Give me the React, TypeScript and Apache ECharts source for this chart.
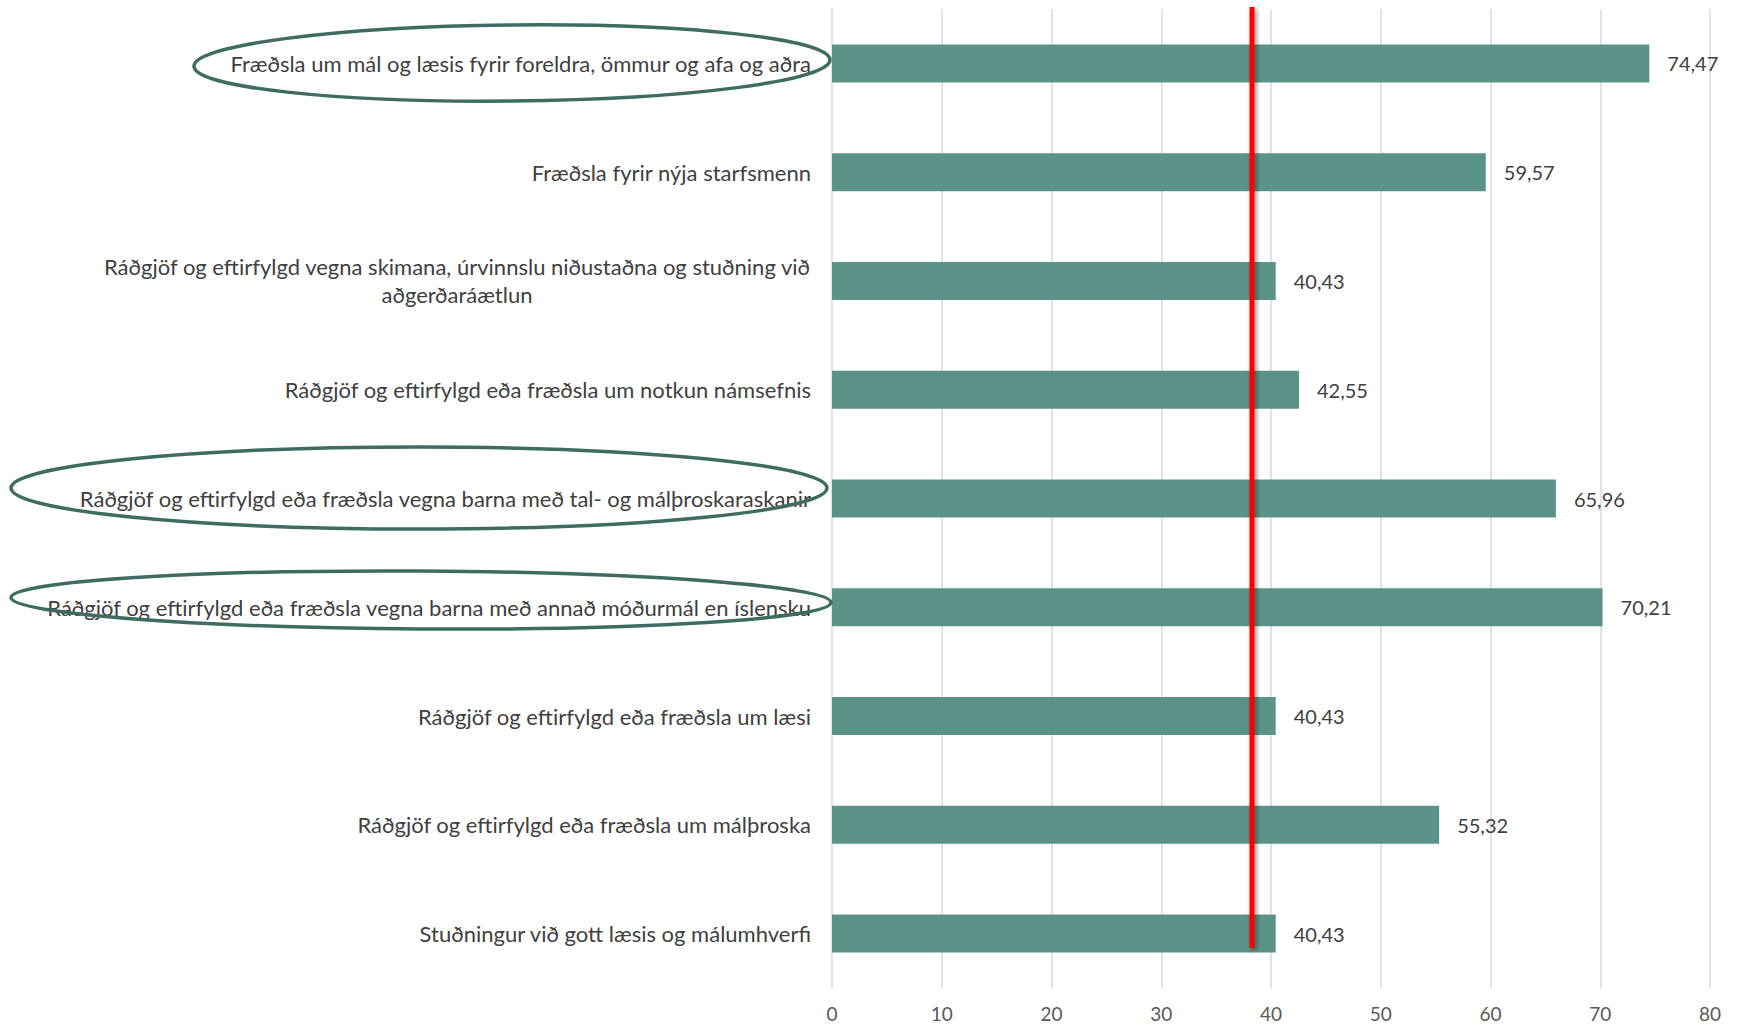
import React, { useEffect, useRef } from "react";
import * as echarts from "echarts";

const categories: string[] = [
  "Fræðsla um mál og læsis fyrir foreldra, ömmur og afa og aðra",
  "Fræðsla fyrir nýja starfsmenn",
  "Ráðgjöf og eftirfylgd vegna skimana, úrvinnslu niðustaðna og stuðning við\naðgerðaráætlun",
  "Ráðgjöf og eftirfylgd eða fræðsla um notkun námsefnis",
  "Ráðgjöf og eftirfylgd eða fræðsla vegna barna með tal- og málþroskaraskanir",
  "Ráðgjöf og eftirfylgd eða fræðsla vegna barna með annað móðurmál en íslensku",
  "Ráðgjöf og eftirfylgd eða fræðsla um læsi",
  "Ráðgjöf og eftirfylgd eða fræðsla um málþroska",
  "Stuðningur við gott læsis og málumhverfi",
];
const values: number[] = [74.47, 59.57, 40.43, 42.55, 65.96, 70.21, 40.43, 55.32, 40.43];
const averageValue = 38.27;
const xTicks: number[] = [0, 10, 20, 30, 40, 50, 60, 70, 80];

const FONT = "Lato, 'Open Sans', sans-serif";
const LABEL_SIZE = 22;

function measure(text: string): number {
  const c = document.createElement("canvas");
  const ctx = c.getContext("2d")!;
  ctx.font = `${LABEL_SIZE}px Lato`;
  return ctx.measureText(text).width;
}

const GRID = { left: 832, right: 29, top: 9, bottom: 40 };

export default function App() {
  const ref = useRef<HTMLDivElement>(null);
  useEffect(() => {
    document.body.style.margin = "0";
    const chart = echarts.init(ref.current!, null, { renderer: "svg" });
    chart.setOption({
      animation: false,
      backgroundColor: "#ffffff",
      grid: GRID,
      xAxis: {
        type: "value",
        min: xTicks[0],
        max: xTicks[xTicks.length - 1],
        interval: 10,
        axisLine: { show: false },
        axisTick: { show: false },
        splitLine: { lineStyle: { color: "#d9d9d9", width: 1.5 } },
        axisLabel: { color: "#595959", fontSize: 19, fontFamily: FONT, margin: 16 },
      },
      yAxis: {
        type: "category",
        inverse: true,
        data: categories,
        axisLine: { show: false },
        axisTick: { show: false },
        axisLabel: {
          color: "#404040",
          fontSize: LABEL_SIZE,
          fontFamily: FONT,
          margin: 21,
          lineHeight: 28,
          formatter: (v: string) => {
            const lines = v.split("\n");
            if (lines.length === 1) return v;
            const w = Math.ceil(Math.max(...lines.map(measure)));
            return lines.map((l) => `{c${w}|${l}}`).join("\n");
          },
          rich: Object.fromEntries(
            categories
              .filter((c) => c.includes("\n"))
              .map((c) => {
                const w = Math.ceil(Math.max(...c.split("\n").map(measure)));
                return [
                  `c${w}`,
                  {
                    width: w,
                    align: "center",
                    color: "#404040",
                    fontSize: LABEL_SIZE,
                    fontFamily: FONT,
                    lineHeight: 28,
                  },
                ];
              })
          ),
        },
      },
      series: [
        {
          type: "bar",
          data: values,
          barWidth: 38,
          itemStyle: { color: "#5a9488" },
          label: {
            show: true,
            position: "right",
            distance: 18,
            color: "#404040",
            fontSize: 20,
            fontFamily: FONT,
            formatter: (p: any) => p.value.toFixed(2).replace(".", ","),
          },
        },
      ],
    });
    let rx = chart.convertToPixel({ xAxisIndex: 0 }, averageValue) as any;
    if (typeof rx !== "number" || !isFinite(rx)) {
      const w = 1739 - GRID.left - GRID.right;
      rx = GRID.left + (averageValue / xTicks[xTicks.length - 1]) * w;
    }
    const ellipseStyle = { fill: "none", stroke: "#3f6b60", lineWidth: 3.5 };
    chart.setOption({
      graphic: [
        {
          type: "rect",
          shape: { x: rx - 2.5, y: 7, width: 5, height: 941 },
          style: {
            fill: "#ff0000",
            shadowBlur: 5,
            shadowColor: "rgba(0,0,0,0.45)",
            shadowOffsetX: 2,
            shadowOffsetY: 2,
          },
          z: 100,
        },
        {
          type: "ellipse",
          x: 512,
          y: 63,
          rotation: 0.01,
          shape: { cx: 0, cy: 0, rx: 318, ry: 38 },
          style: ellipseStyle,
          z: 100,
        },
        {
          type: "ellipse",
          x: 419,
          y: 488,
          shape: { cx: 0, cy: 0, rx: 408, ry: 41 },
          style: ellipseStyle,
          z: 100,
        },
        {
          type: "ellipse",
          x: 421,
          y: 600,
          rotation: -0.006,
          shape: { cx: 0, cy: 0, rx: 410, ry: 29 },
          style: ellipseStyle,
          z: 100,
        },
      ],
    });
    return () => chart.dispose();
  }, []);
  return <div ref={ref} style={{ width: 1739, height: 1028 }} />;
}
